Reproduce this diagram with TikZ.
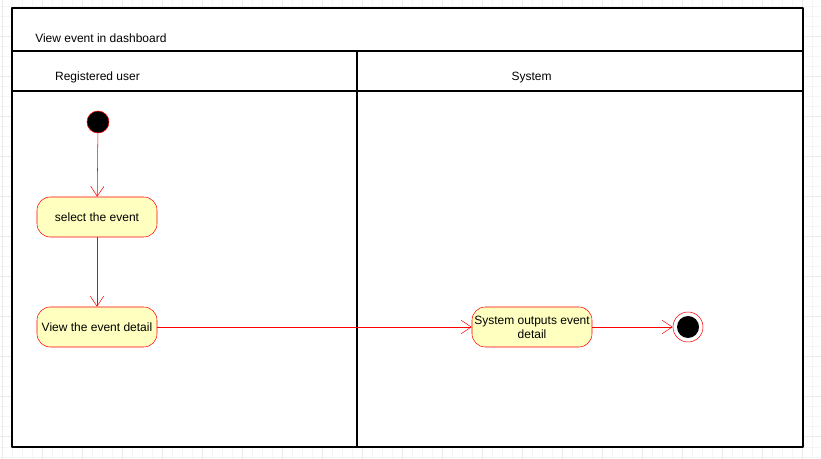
\documentclass[tikz,border=0pt]{standalone}
\usepackage{fontspec}
\setmainfont{Liberation Sans}
\usetikzlibrary{arrows.meta}
\definecolor{actfill}{HTML}{FFFFC0}
\begin{document}
\begin{tikzpicture}[x=0.75pt, y=-0.75pt, font=\fontsize{9}{10.5}\selectfont, line join=round, >={Straight Barb[length=7.5pt,width=10pt]},
 act/.style={draw=red, fill=actfill, rounded corners=10pt, minimum width=90pt, minimum height=30pt, align=center, inner sep=0pt},
 flow/.style={draw=red, ->}]
 \useasboundingbox (0,0) rectangle (821,459);
 % background grid
 \foreach \i in {0,...,82} \draw[black!4, line width=0.75pt] (\i*10+2.7,0)--(\i*10+2.7,459);
 \foreach \j in {0,...,46} \draw[black!4, line width=0.75pt] (0,\j*10-3)--(821,\j*10-3);
 \foreach \i in {0,...,20} \draw[black!8, line width=0.75pt] (\i*40+2.7,0)--(\i*40+2.7,459);
 \foreach \j in {0,...,11} \draw[black!8, line width=0.75pt] (0,\j*40-3)--(821,\j*40-3);
 % frame and lanes
 \draw[fill=white, line width=0.9pt] (12,8) rectangle (803,447);
 \draw[line width=0.9pt] (12,51)--(803,51);
 \draw[line width=0.9pt] (12,91)--(803,91);
 \draw[line width=1.5pt] (357,51)--(357,447);
 \node[anchor=west, inner sep=0pt] (title) at (35,38) {View event in dashboard};
 \node (user) at (97.5,77.5) {Registered user};
 \node (sys) at (531.5,77.5) {System};
 % activities
 \node[circle, fill=black, draw=red, minimum size=16.5pt, inner sep=0pt] (start) at (98,122) {};
 \node[act] (select) at (97,217) {select the event};
 \node[act] (detail) at (97,327) {View the event detail};
 \node[act] (output) at (532,327) {System outputs event\\detail};
 \node[circle, draw=red, fill=white, minimum size=22.5pt, inner sep=0pt] (end) at (688,327) {};
 \fill (end.center) circle (8.25pt);
 \draw[flow] (start)--(select);
 \draw[flow] (select)--(detail);
 \draw[flow] (detail)--(output);
 \draw[flow] (output)--(end);
\end{tikzpicture}
\end{document}
